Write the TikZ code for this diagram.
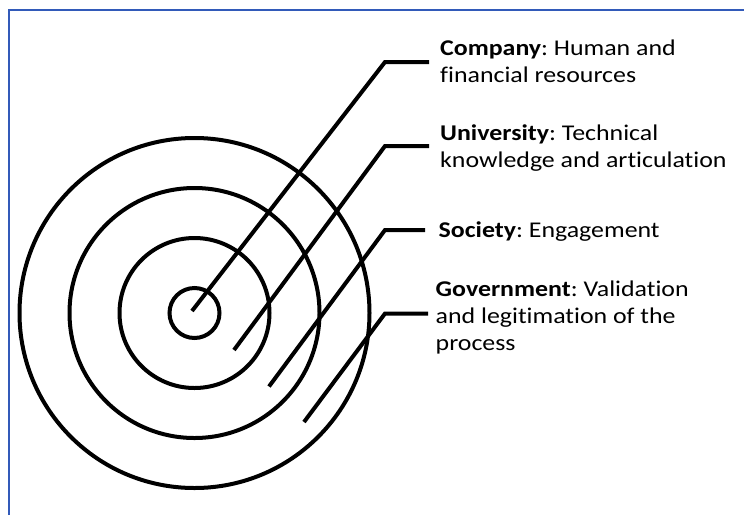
\documentclass[tikz,border=0pt]{standalone}
\usepackage{fontspec}
\setmainfont{Carlito}[FakeStretch=1.15,Ligatures=NoCommon]
\definecolor{frameblue}{RGB}{50,90,185}
\begin{document}
\frenchspacing
\begin{tikzpicture}[x=1pt,y=-1pt,
  ring/.style={draw=black,line width=4pt},
  leader/.style={draw=black,line width=4pt,line join=miter},
  lbl/.style={anchor=base west,inner sep=0pt,align=left,font=\fontsize{22.5}{26.8}\selectfont}]
\useasboundingbox (0,0) rectangle (744,515);
\fill[white] (0,0) rectangle (744,515);
\draw[frameblue,line width=1.5pt] (9,515) -- (9,10) -- (744,10);
% rings
\coordinate (ctr) at (194.5,313);
\draw[ring] (ctr) circle[radius=25pt];
\draw[ring] (ctr) circle[radius=75pt];
\draw[ring] (ctr) circle[radius=125pt];
\draw[ring] (ctr) circle[radius=175pt];
% labels (base = baseline of last line)
\node[lbl] (lc) at (440,82) {\textbf{Company}: Human and\\financial resources};
\node[lbl] (lu) at (440,167.5) {\textbf{University}: Technical\\knowledge and articulation};
\node[lbl] (ls) at (438.5,237) {\textbf{Society}: Engagement};
\node[lbl] (lg) at (435.5,350) {\textbf{Government}: Validation\\and legitimation of the\\process};
% leader points
\coordinate (cs) at (192,311);   \coordinate (ck) at (385,62);  \coordinate (ce) at (429,62);
\coordinate (us) at (234,350);   \coordinate (uk) at (385,146); \coordinate (ue) at (429,146);
\coordinate (ss) at (269,386.5); \coordinate (sk) at (385,230); \coordinate (se) at (425,230);
\coordinate (gs) at (304,422);   \coordinate (gk) at (385,313.5); \coordinate (ge) at (428,313.5);
\draw[leader] (cs) -- (ck) -- (ce);
\draw[leader] (us) -- (uk) -- (ue);
\draw[leader] (ss) -- (sk) -- (se);
\draw[leader] (gs) -- (gk) -- (ge);
\end{tikzpicture}
\end{document}
